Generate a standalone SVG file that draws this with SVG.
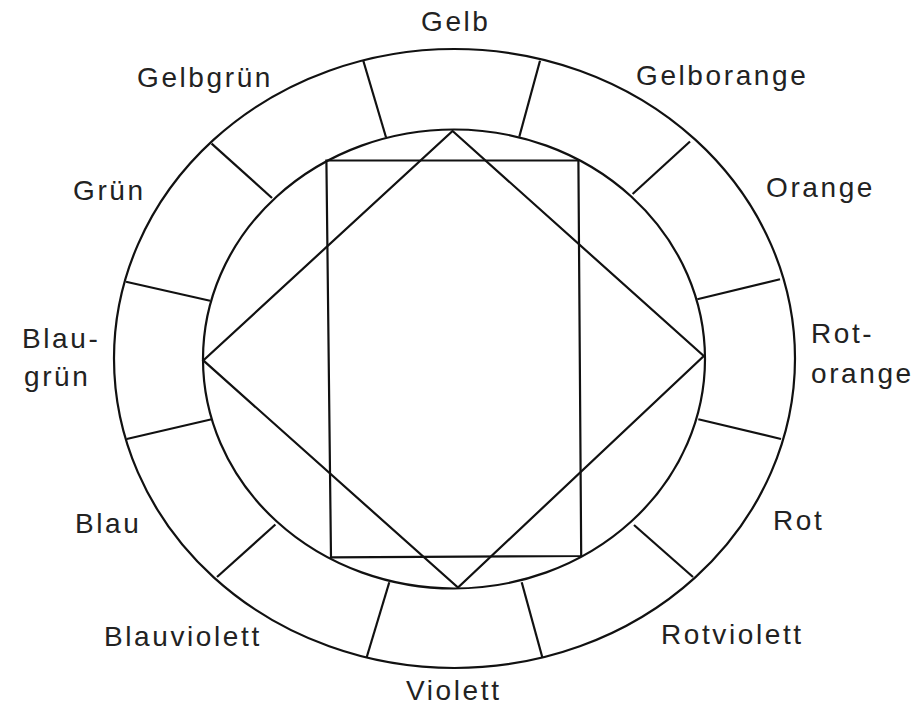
<svg xmlns="http://www.w3.org/2000/svg" width="919" height="708" viewBox="0 0 919 708">
<style>
.ln{fill:none;stroke:#111;stroke-width:2.2;stroke-linejoin:miter}
.lb{font-family:"Liberation Sans",Arial,Helvetica,sans-serif;font-size:28px;fill:#222;letter-spacing:2.6px}
</style>
<rect width="919" height="708" fill="#fff"/>
<g id="wheel">
<ellipse class="ln" cx="454.5" cy="358.5" rx="340.5" ry="309.5"/>
<ellipse class="ln" cx="454" cy="359" rx="251" ry="229.5"/>
</g>
<g id="dividers">
<line class="ln" x1="363.3" y1="60.7" x2="386" y2="137.3"/>
<line class="ln" x1="540" y1="60.7" x2="519.3" y2="136.7"/>
<line class="ln" x1="211.6" y1="143.6" x2="272" y2="198"/>
<line class="ln" x1="690" y1="141.5" x2="632.6" y2="194"/>
<line class="ln" x1="126" y1="281.7" x2="210" y2="300.7"/>
<line class="ln" x1="780" y1="279.3" x2="697.3" y2="299.3"/>
<line class="ln" x1="126.7" y1="439" x2="211.7" y2="419.3"/>
<line class="ln" x1="781" y1="439" x2="698.3" y2="419.3"/>
<line class="ln" x1="217" y1="577" x2="275.4" y2="524.5"/>
<line class="ln" x1="693" y1="577" x2="634" y2="525"/>
<line class="ln" x1="366.7" y1="657.3" x2="389.3" y2="582.3"/>
<line class="ln" x1="542.3" y1="657.3" x2="521.7" y2="582.3"/>
</g>
<g id="square">
<polygon class="ln" points="452.6,131 703.8,356 458,587.6 203.3,360.4"/>
</g>
<g id="rectangle">
<polygon class="ln" points="326.4,160.5 578.4,160.5 581.2,556 331,557.4"/>
</g>
<g id="labels">
<text id="gelb" class="lb" x="421" y="31">Gelb</text>
<text id="gelbgruen" class="lb" x="137" y="87">Gelbgrün</text>
<text id="gelborange" class="lb" x="636" y="85">Gelborange</text>
<text id="gruen" class="lb" x="73" y="200">Grün</text>
<text id="orange" class="lb" x="766" y="197">Orange</text>
<text id="blaugruen" class="lb" x="22" y="348">Blau-<tspan x="24" y="386">grün</tspan></text>
<text id="rotorange" class="lb" x="811" y="343">Rot-<tspan x="811" y="383">orange</tspan></text>
<text id="blau" class="lb" x="75" y="533">Blau</text>
<text id="rot" class="lb" x="773" y="530">Rot</text>
<text id="blauviolett" class="lb" x="104" y="646">Blauviolett</text>
<text id="rotviolett" class="lb" x="661" y="644">Rotviolett</text>
<text id="violett" class="lb" x="406" y="700">Violett</text>
</g>
</svg>
